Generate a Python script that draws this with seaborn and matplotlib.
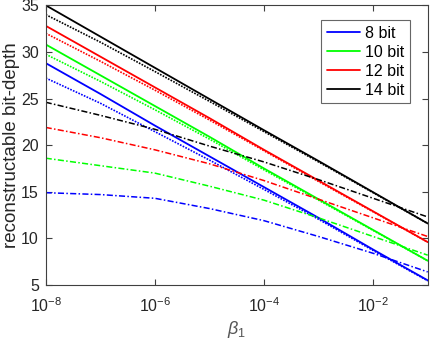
import numpy as np
import pandas as pd
import matplotlib
matplotlib.use("Agg")
import matplotlib.pyplot as plt
import seaborn as sns
from matplotlib.lines import Line2D

# beta_1 values (one per decade)
beta = [1e-8, 1e-7, 1e-6, 1e-5, 1e-4, 1e-3, 1e-2, 1e-1]

bit_labels = ["8 bit", "10 bit", "12 bit", "14 bit"]
bit_colors = ["#0000ff", "#00ff00", "#ff0000", "#000000"]

# solid curves
solid_8 = [28.8, 25.5, 22.1, 18.8, 15.5, 12.2, 8.8, 5.5]
solid_10 = [30.8, 27.5, 24.2, 20.9, 17.5, 14.2, 10.9, 7.6]
solid_12 = [32.8, 29.5, 26.2, 22.9, 19.5, 16.2, 12.9, 9.6]
solid_14 = [35.0, 31.65, 28.3, 24.95, 21.6, 18.3, 14.95, 11.6]

# dotted curves
dotted_8 = [27.2, 24.5, 21.45, 18.4, 15.25, 12.05, 8.7, 5.45]
dotted_10 = [29.75, 26.85, 23.8, 20.65, 17.35, 14.1, 10.85, 7.6]
dotted_12 = [32.0, 29.0, 25.9, 22.7, 19.4, 16.1, 12.85, 9.6]
dotted_14 = [34.0, 31.05, 27.9, 24.7, 21.45, 18.2, 14.9, 11.6]

# dash-dot curves
dashdot_8 = [14.9, 14.7, 14.3, 13.2, 11.9, 10.2, 8.4, 6.4]
dashdot_10 = [18.6, 17.8, 17.0, 15.6, 14.1, 12.2, 10.2, 8.2]
dashdot_12 = [21.9, 20.8, 19.5, 18.0, 16.2, 14.2, 12.2, 10.2]
dashdot_14 = [24.6, 23.2, 21.7, 19.9, 18.2, 16.3, 14.3, 12.3]

solid = [solid_8, solid_10, solid_12, solid_14]
dotted = [dotted_8, dotted_10, dotted_12, dotted_14]
dashdot = [dashdot_8, dashdot_10, dashdot_12, dashdot_14]

sns.set_style("white")
plt.rcParams["font.family"] = ["Liberation Sans", "DejaVu Sans"]
plt.rcParams["mathtext.fontset"] = "custom"
plt.rcParams["mathtext.rm"] = "Liberation Sans"
plt.rcParams["mathtext.it"] = "Liberation Sans:italic"
plt.rcParams["mathtext.bf"] = "Liberation Sans:bold"

fig = plt.figure(figsize=(4.3, 3.46), dpi=100)
ax = fig.add_axes([0.1063, 0.1763, 0.8884, 0.8084])

axis_col = "#404040"
lw = 1.3

for i in range(4):
    df = pd.DataFrame({"beta": beta, "solid": solid[i],
                       "dotted": dotted[i], "dashdot": dashdot[i]})
    sns.lineplot(data=df, x="beta", y="dashdot", ax=ax, color=bit_colors[i],
                 lw=1.1, linestyle=(0, (4, 1.5, 1, 1.5)), legend=False)
    sns.lineplot(data=df, x="beta", y="dotted", ax=ax, color=bit_colors[i],
                 lw=1.2, linestyle=(0, (1, 0.8)), legend=False)
    sns.lineplot(data=df, x="beta", y="solid", ax=ax, color=bit_colors[i],
                 lw=lw, legend=False)

ax.set_xscale("log")
ax.set_xlim(1e-8, 1e-1)
ax.set_ylim(5, 35)
ax.set_xticks([1e-8, 1e-6, 1e-4, 1e-2])
ax.set_xticklabels([r"$10^{-8}$", r"$10^{-6}$", r"$10^{-4}$", r"$10^{-2}$"])
ax.xaxis.set_minor_locator(matplotlib.ticker.NullLocator())
ax.set_yticks([5, 10, 15, 20, 25, 30, 35])

ax.tick_params(direction="in", length=4, width=0.8, colors=axis_col,
               labelcolor="#262626", labelsize=11.5, top=True, right=True,
               bottom=True, left=True)
ax.tick_params(axis="x", pad=8)
ax.tick_params(axis="y", pad=5)
for sp in ax.spines.values():
    sp.set_visible(True)
    sp.set_color(axis_col)
    sp.set_linewidth(0.8)

ax.set_xlabel(r"$\beta_1$", fontsize=13, color="#555555", labelpad=3)
ax.set_ylabel("reconstructable bit-depth", fontsize=13.5, color="#262626", labelpad=1)

handles = [Line2D([0], [0], color=c, lw=lw) for c in bit_colors]
leg = ax.legend(handles, bit_labels, loc="upper right", fontsize=11.5,
                frameon=True, fancybox=False, edgecolor=axis_col,
                handlelength=2.1, handletextpad=0.3, borderpad=0.35,
                labelspacing=0.25, bbox_to_anchor=(0.975, 0.975))
leg.get_frame().set_linewidth(0.8)
for t in leg.get_texts():
    t.set_color("#000000")

fig.savefig("out.png", dpi=100)
